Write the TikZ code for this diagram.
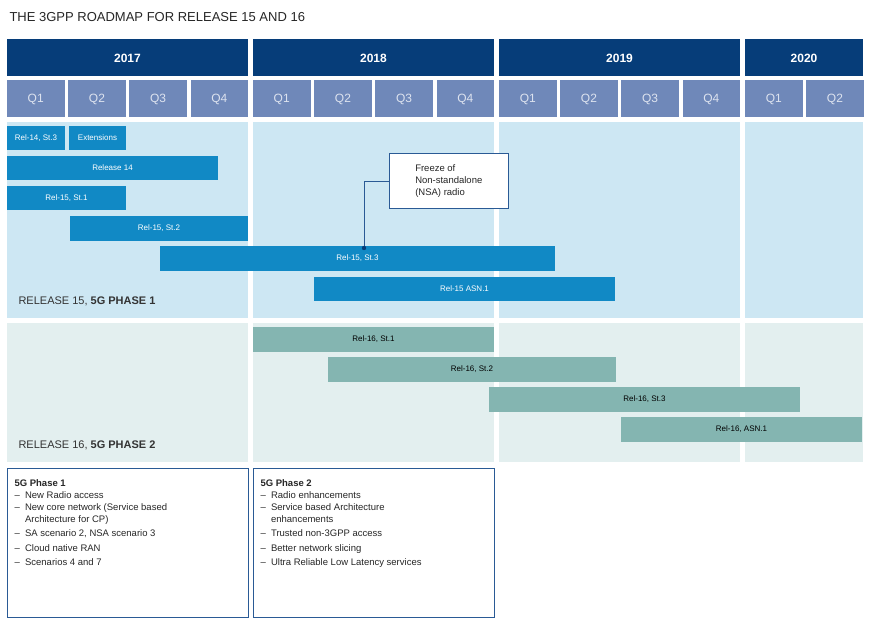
\documentclass[tikz,border=0pt]{standalone}
\usepackage{fontspec}
\setmainfont{Liberation Sans}
\definecolor{yr}{HTML}{063D79}
\definecolor{qt}{HTML}{6F88B9}
\definecolor{qtx}{HTML}{DDE3EF}
\definecolor{pa}{HTML}{CDE7F3}
\definecolor{pb}{HTML}{E3EFEF}
\definecolor{ba}{HTML}{1189C5}
\definecolor{bb}{HTML}{84B5B1}
\definecolor{bx}{HTML}{2A5A95}
\tikzset{
 yearbox/.style={fill=yr,text=white,font=\bfseries\fontsize{12}{14}\selectfont},
 qbox/.style={fill=qt,text=qtx,font=\fontsize{13}{15}\selectfont},
 bara/.style={fill=ba,text=white,font=\fontsize{8}{10}\selectfont},
 barb/.style={fill=bb,text=black,font=\fontsize{8}{10}\selectfont},
 infobox/.style={draw=bx,line width=0.8pt,fill=white},
}
\newcommand{\rbox}[5]{\fill[#1] (#2,#3) rectangle (#4,#5);}
\begin{document}
\begin{tikzpicture}[x=1pt,y=-1pt]
\useasboundingbox (0,0) rectangle (871,626);
\node[anchor=west,font=\fontsize{13}{15}\selectfont,text=black!85] (title) at (6,17) {THE 3GPP ROADMAP FOR RELEASE 15 AND 16};
% years
\foreach \yy/\xa/\xb in {2017/7/248,2018/253/494,2019/499/740,2020/745/863}{
 \fill[yr] (\xa,39) rectangle (\xb,76);
 \node[text=white,font=\bfseries\fontsize{12}{14}\selectfont] (y\yy) at ({(\xa+\xb)/2},58) {\yy};
}
% quarters
\foreach \k in {0,1,2}{
 \foreach \i in {1,...,4}{
  \pgfmathsetmacro\xa{7+246*\k+61.2*(\i-1)}
  \fill[qt] (\xa,80) rectangle (\xa+57.5,117);
  \node[text=qtx,font=\fontsize{12}{14}\selectfont] (q\k\i) at (\xa+28.75,99) {Q\i};
 }
}
\foreach \i in {1,2}{
  \pgfmathsetmacro\xa{745+61.2*(\i-1)}
  \fill[qt] (\xa,80) rectangle (\xa+57.5,117);
  \node[text=qtx,font=\fontsize{12}{14}\selectfont] (q3\i) at (\xa+28.75,99) {Q\i};
}
% panels
\foreach \xa/\xb in {7/248,253/494,499/740,745/863}{
 \fill[pa] (\xa,122) rectangle (\xb,318);
 \fill[pb] (\xa,323) rectangle (\xb,462);
}
% release 15 bars
\foreach \n/\xa/\ya/\xb/\yb/\t in {
 a/7/126/65/150/{Rel-14, St.3},
 b/69/126/126/150/{Extensions},
 c/7/156/218/180/{Release 14},
 d/7/186/126/210/{Rel-15, St.1},
 e/70/216/248/241/{Rel-15, St.2},
 f/160/246/555/271/{Rel-15, St.3},
 g/314/277/615/301/{Rel-15 ASN.1}}{
 \fill[ba] (\xa,\ya) rectangle (\xb,\yb);
 \node[text=white,font=\fontsize{8}{10}\selectfont] (bar\n) at ({(\xa+\xb)/2},{(\ya+\yb)/2}) {\t};
}
\foreach \n/\xa/\ya/\xb/\yb/\t in {
 a/253/327/494/352/{Rel-16, St.1},
 b/328/357/616/382/{Rel-16, St.2},
 c/489/387/800/412/{Rel-16, St.3},
 d/621/417/862/442/{Rel-16, ASN.1}}{
 \fill[bb] (\xa,\ya) rectangle (\xb,\yb);
 \node[text=black,font=\fontsize{8}{10}\selectfont] (bbar\n) at ({(\xa+\xb)/2},{(\ya+\yb)/2}) {\t};
}
% freeze callout
\node[draw=bx,line width=0.6pt,fill=white,anchor=north west,align=left,inner sep=3pt,minimum width=119pt,minimum height=55pt,font=\fontsize{9.5}{12}\selectfont,text=black!85] (freeze) at (389,153) {Freeze of\\Non-standalone\\(NSA) radio};
\coordinate (dot) at (364,248);
\draw[bx,line width=0.6pt] (dot) |- (freeze.west);
\fill[yr] (dot) circle (2.2pt);
% release labels
\node[anchor=west,font=\fontsize{11}{13}\selectfont,text=black!80] (r15) at (15,301) {RELEASE 15, \textbf{5G PHASE 1}};
\node[anchor=west,font=\fontsize{11}{13}\selectfont,text=black!80] (r16) at (15,445) {RELEASE 16, \textbf{5G PHASE 2}};
% info boxes
\draw[bx,line width=0.8pt] (7,468) rectangle (248,617);
\draw[bx,line width=0.8pt] (253,468) rectangle (494,617);
\node[anchor=north west,align=left,font=\fontsize{9.5}{12}\selectfont,text=black!85] (p1) at (11,476) {%
\textbf{5G Phase 1}\\
– \ New Radio access\\
– \ New core network (Service based\\
\phantom{– \ }Architecture for CP)\\[2.5pt]
– \ SA scenario 2, NSA scenario 3\\[2.5pt]
– \ Cloud native RAN\\[2.5pt]
– \ Scenarios 4 and 7};
\node[anchor=north west,align=left,font=\fontsize{9.5}{12}\selectfont,text=black!85] (p2) at (257,476) {%
\textbf{5G Phase 2}\\
– \ Radio enhancements\\
– \ Service based Architecture\\
\phantom{– \ }enhancements\\[2.5pt]
– \ Trusted non-3GPP access\\[2.5pt]
– \ Better network slicing\\[2.5pt]
– \ Ultra Reliable Low Latency services};
\end{tikzpicture}
\end{document}
